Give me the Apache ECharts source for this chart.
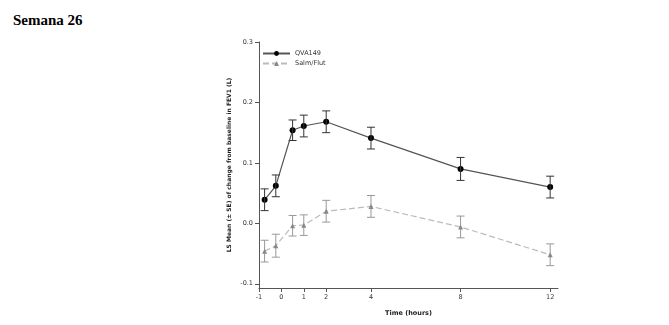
<!DOCTYPE html>
<html>
<head>
<meta charset="utf-8">
<script src="https://cdn.jsdelivr.net/npm/echarts@6/dist/echarts.min.js"></script>
<style>
  html, body { margin: 0; padding: 0; background: #fff; }
  #title { position: absolute; left: 13px; top: 12px; font-family: "Liberation Serif", serif; font-weight: bold; font-size: 15px; color: #000; }
  #chart { width: 669px; height: 325px; }
</style>
</head>
<body>
<div id="title">Semana 26</div>
<div id="chart"></div>
<script>
// Time points (hours) and LS mean change in FEV1 (L) with standard errors
const timeHours = [-0.75, -0.25, 0.5, 1, 2, 4, 8, 12];
const qvaMean = [0.039, 0.062, 0.154, 0.161, 0.168, 0.141, 0.090, 0.060];
const qvaSE   = [0.018, 0.018, 0.017, 0.018, 0.018, 0.018, 0.019, 0.018];
const salmMean = [-0.046, -0.037, -0.004, -0.003, 0.020, 0.028, -0.006, -0.052];
const salmSE   = [0.018, 0.019, 0.017, 0.017, 0.018, 0.018, 0.018, 0.018];
const xTicks = [-1, 0, 1, 2, 4, 8, 12];
const yTicks = [-0.1, 0, 0.1, 0.2, 0.3];

const pts = (m) => timeHours.map((t, i) => [t, m[i]]);
const bars = (m, s) => timeHours.map((t, i) => [t, m[i] - s[i], m[i] + s[i]]);

function errorBars(color) {
  return function (params, api) {
    const x = api.value(0);
    const lo = api.coord([x, api.value(1)]);
    const hi = api.coord([x, api.value(2)]);
    const cap = 4;
    const style = { stroke: color, lineWidth: 1 };
    return {
      type: 'group',
      children: [
        { type: 'line', shape: { x1: lo[0], y1: lo[1], x2: hi[0], y2: hi[1] }, style },
        { type: 'line', shape: { x1: lo[0] - cap, y1: lo[1], x2: lo[0] + cap, y2: lo[1] }, style },
        { type: 'line', shape: { x1: hi[0] - cap, y1: hi[1], x2: hi[0] + cap, y2: hi[1] }, style }
      ]
    };
  };
}

const chart = echarts.init(document.getElementById('chart'), null, { renderer: 'canvas' });
const axisFont = { fontFamily: 'DejaVu Sans', fontSize: 6.5, color: '#333' };
chart.setOption({
  animation: false,
  grid: { left: 259, right: 111, top: 42, bottom: 37 },
  legend: {
    left: 257, top: 45, orient: 'vertical', itemGap: 3, itemWidth: 27, itemHeight: 6,
    textStyle: { fontFamily: 'DejaVu Sans', fontSize: 6.5, color: '#333' },
    data: ['QVA149', 'Salm/Flut']
  },
  xAxis: {
    type: 'value', min: -1, max: 12.35,
    name: 'Time (hours)', nameLocation: 'middle', nameGap: 22,
    nameTextStyle: { fontFamily: 'DejaVu Sans', fontSize: 6.5, fontWeight: 'bold', color: '#222' },
    axisLine: { onZero: false, lineStyle: { color: '#555', width: 1 } },
    axisTick: { show: true, length: 4, customValues: xTicks, lineStyle: { color: '#555' } },
    axisLabel: { customValues: xTicks, margin: 6, ...axisFont },
    splitLine: { show: false }
  },
  yAxis: {
    type: 'value', min: -0.107, max: 0.3,
    name: 'LS Mean (\u00b1 SE) of change from baseline in FEV1 (L)', nameLocation: 'middle', nameGap: 27,
    nameTextStyle: { fontFamily: 'DejaVu Sans', fontSize: 6, fontWeight: 'bold', color: '#222' },
    axisLine: { show: true, onZero: false, lineStyle: { color: '#555', width: 1 } },
    axisTick: { show: true, length: 4, customValues: yTicks, lineStyle: { color: '#555' } },
    axisLabel: { customValues: yTicks, margin: 6, formatter: (v) => v.toFixed(1), ...axisFont },
    splitLine: { show: false }
  },
  series: [
    {
      name: 'QVA149', type: 'line', data: pts(qvaMean),
      symbol: 'circle', symbolSize: 6,
      itemStyle: { color: '#000' },
      lineStyle: { color: '#555', width: 1.2 },
      z: 4
    },
    {
      name: 'Salm/Flut', type: 'line', data: pts(salmMean),
      symbol: 'triangle', symbolSize: 5,
      itemStyle: { color: '#888' },
      lineStyle: { color: '#bbb', width: 1.2, type: [6, 3] },
      z: 3
    },
    { type: 'custom', data: bars(qvaMean, qvaSE), renderItem: errorBars('#333'), z: 5, silent: true },
    { type: 'custom', data: bars(salmMean, salmSE), renderItem: errorBars('#999'), z: 2, silent: true }
  ]
});
</script>
</body>
</html>
